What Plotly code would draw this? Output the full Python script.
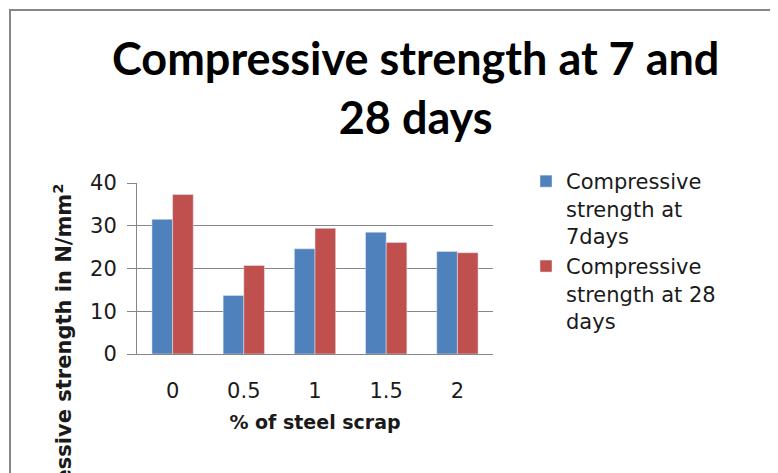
import plotly.graph_objects as go

categories = ['0', '0.5', '1', '1.5', '2']
strength_7days = [31.5, 13.7, 24.6, 28.5, 24.0]
strength_28days = [37.3, 20.7, 29.4, 26.1, 23.7]
y_ticks = [0, 10, 20, 30, 40]

GRID = '#868686'
TXT = '#1a1a1a'
FONT = 'DejaVu Sans'
TITLE_FONT = 'Lato'

fig = go.Figure()
fig.add_trace(go.Bar(x=categories, y=strength_7days,
                     name='Compressive<br>strength at<br>7days',
                     marker=dict(color='#4F81BD')))
fig.add_trace(go.Bar(x=categories, y=strength_28days,
                     name='Compressive<br>strength at 28<br>days',
                     marker=dict(color='#C0504D')))

# the page body adds an 8px offset, so work in screen pixels and shift
OFF = 8
W, H = 778 - OFF, 473 - OFF
L, R, T, B = 137, 493, 183, 354  # plot area in screen pixels


def px_x(p):
    return (p - L) / (R - L)


def px_y(p):
    return (B - p) / (B - T)


fig.update_layout(
    width=W, height=H,
    margin=dict(l=L - OFF, r=W - (R - OFF), t=T - OFF, b=H - (B - OFF)),
    paper_bgcolor='white', plot_bgcolor='white',
    barmode='group', bargap=0.42, bargroupgap=0,
    font=dict(family=FONT, size=21, color=TXT),
    legend=dict(x=px_x(526), xanchor='left', y=px_y(161), yanchor='top',
                valign='top', itemwidth=30, tracegroupgap=0,
                font=dict(family=FONT, size=21, color=TXT),
                bgcolor='rgba(0,0,0,0)'),
    xaxis=dict(
        showgrid=False, showline=True, linecolor=GRID, linewidth=1,
        ticks='', ticklabelstandoff=18, automargin=False,
        tickfont=dict(family=FONT, size=21, color=TXT),
        title=dict(text='<b>% of steel scrap</b>', standoff=13,
                   font=dict(family=FONT, size=19, color=TXT)),
    ),
    yaxis=dict(
        range=[0, 40], tickvals=y_ticks, automargin=False,
        showgrid=True, gridcolor=GRID, gridwidth=1,
        showline=True, linecolor=GRID, linewidth=1,
        ticks='outside', ticklen=9, tickcolor=GRID, ticklabelstandoff=6,
        tickfont=dict(family=FONT, size=21, color=TXT),
        zeroline=False,
    ),
    annotations=[
        dict(text='<b>Compressive strength at 7 and<br>28 days</b>',
             xref='paper', yref='paper', x=px_x(415), xanchor='center',
             y=px_y(87), yanchor='middle', showarrow=False,
             font=dict(family=TITLE_FONT, size=45, color='black')),
        dict(text='<b>Compressive strength in N/mm<sup>2</sup></b>',
             textangle=-90, xref='paper', yref='paper',
             x=px_x(62), xanchor='center', y=px_y(182), yanchor='top',
             showarrow=False, font=dict(family=FONT, size=21, color=TXT)),
    ],
    shapes=[dict(type='rect', xref='paper', yref='paper',
                 x0=px_x(10), x1=px_x(900), y0=px_y(600), y1=px_y(10),
                 line=dict(color=GRID, width=2), layer='below')],
)

fig.write_html('out.html')
